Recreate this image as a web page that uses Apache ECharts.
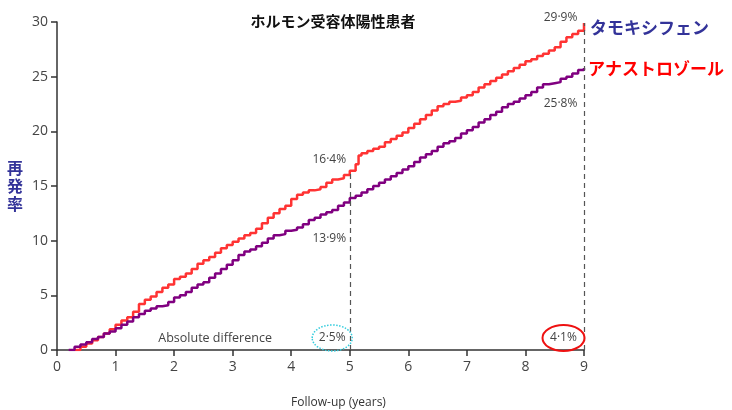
<!DOCTYPE html>
<html>
<head>
<meta charset="utf-8">
<script src="https://cdn.jsdelivr.net/npm/echarts@6/dist/echarts.min.js"></script>
<style>
  html, body { margin: 0; padding: 0; background: #fff; }
  #chart { width: 732px; height: 410px; }
</style>
</head>
<body>
<div id="chart"></div>
<script>
// follow-up time (years) and cumulative recurrence (%)
var tamTimes = [0.3, 0.4, 0.5, 0.6, 0.7, 0.8, 0.9, 1.0, 1.1, 1.2, 1.3, 1.4, 1.5, 1.6, 1.7, 1.8, 1.9,
    2.0, 2.1, 2.2, 2.3, 2.4, 2.5, 2.6, 2.7, 2.8, 2.9, 3.0, 3.1, 3.2, 3.3, 3.4, 3.5, 3.6, 3.7, 3.8, 3.9,
    4.0, 4.1, 4.2, 4.3, 4.4, 4.5, 4.6, 4.7, 4.8, 4.9, 5.0, 5.1, 5.15, 5.2, 5.3, 5.4, 5.5, 5.6, 5.7, 5.8, 5.9,
    6.0, 6.1, 6.2, 6.3, 6.4, 6.5, 6.6, 6.7, 6.8, 6.9, 7.0, 7.1, 7.2, 7.3, 7.4, 7.5, 7.6, 7.7, 7.8, 7.9,
    8.0, 8.1, 8.2, 8.3, 8.4, 8.5, 8.6, 8.7, 8.8, 8.9, 9.0];
var tamValues = [0.0, 0.3, 0.6, 0.9, 1.2, 1.5, 1.9, 2.3, 2.7, 3.0, 3.5, 4.2, 4.6, 4.9, 5.3, 5.7, 6.0,
    6.5, 6.7, 7.0, 7.4, 7.9, 8.2, 8.5, 8.9, 9.3, 9.6, 9.9, 10.2, 10.5, 10.7, 11.1, 11.6, 12.1, 12.5, 12.9, 13.2,
    13.8, 14.2, 14.4, 14.6, 14.7, 14.9, 15.3, 15.6, 15.7, 16.0, 16.4, 17.0, 17.8, 18.0, 18.2, 18.4, 18.6, 19.0, 19.3, 19.6, 19.9,
    20.3, 20.7, 21.1, 21.5, 21.9, 22.3, 22.5, 22.7, 22.8, 23.1, 23.3, 23.6, 24.0, 24.3, 24.6, 24.9, 25.2, 25.5, 25.8, 26.1,
    26.4, 26.6, 26.9, 27.1, 27.4, 27.7, 28.2, 28.6, 28.9, 29.2, 29.9];

var anaTimes = [0.2, 0.3, 0.4, 0.5, 0.6, 0.7, 0.8, 0.9, 1.0, 1.1, 1.2, 1.3, 1.4, 1.5, 1.6, 1.7, 1.8, 1.9,
    2.0, 2.1, 2.2, 2.3, 2.4, 2.5, 2.6, 2.7, 2.8, 2.9, 3.0, 3.1, 3.2, 3.3, 3.4, 3.5, 3.6, 3.7, 3.8, 3.9,
    4.0, 4.1, 4.2, 4.3, 4.4, 4.5, 4.6, 4.7, 4.8, 4.9, 5.0, 5.1, 5.2, 5.3, 5.4, 5.5, 5.6, 5.7, 5.8, 5.9,
    6.0, 6.1, 6.2, 6.3, 6.4, 6.5, 6.6, 6.7, 6.8, 6.9, 7.0, 7.1, 7.2, 7.3, 7.4, 7.5, 7.6, 7.7, 7.8, 7.9,
    8.0, 8.1, 8.2, 8.3, 8.4, 8.5, 8.6, 8.7, 8.8, 8.9, 9.0];
var anaValues = [0.0, 0.3, 0.5, 0.7, 1.0, 1.2, 1.5, 1.7, 2.0, 2.3, 2.6, 3.0, 3.3, 3.6, 3.8, 4.0, 4.1, 4.4,
    4.8, 5.0, 5.3, 5.7, 6.0, 6.2, 6.6, 7.0, 7.4, 7.8, 8.2, 8.7, 9.0, 9.2, 9.5, 9.8, 10.2, 10.5, 10.6, 10.9,
    11.0, 11.2, 11.5, 11.9, 12.1, 12.4, 12.6, 12.8, 13.2, 13.5, 13.9, 14.1, 14.4, 14.7, 15.0, 15.3, 15.6, 15.9, 16.2, 16.5,
    16.8, 17.2, 17.6, 17.9, 18.2, 18.6, 18.9, 19.1, 19.4, 19.8, 20.1, 20.4, 20.8, 21.1, 21.5, 21.8, 22.2, 22.5, 22.7, 23.0,
    23.3, 23.6, 24.0, 24.3, 24.4, 24.5, 24.8, 25.0, 25.3, 25.6, 25.8];

var xTicks = [0, 1, 2, 3, 4, 5, 6, 7, 8, 9];
var yTicks = [0, 5, 10, 15, 20, 25, 30];

// labelled time points
var checkYears = [5, 9];
var checkTam = ['16·4%', '29·9%'];
var checkAna = ['13·9%', '25·8%'];
var checkDiff = ['2·5%', '4·1%'];

var numFont = '"Open Sans", "Noto Sans", sans-serif';
var jpFont = '"Noto Sans CJK JP", sans-serif';

function zip(xs, ys) {
    return xs.map(function (x, i) { return [x, ys[i]]; });
}

var myChart = echarts.init(document.getElementById('chart'));

var option = {
    animation: false,
    grid: { left: 57, right: 148, top: 22, bottom: 60, outerBoundsMode: 'none', containLabel: false },
    xAxis: {
        type: 'value',
        min: xTicks[0],
        max: xTicks[xTicks.length - 1],
        interval: 1,
        name: 'Follow-up (years)',
        nameLocation: 'middle',
        nameGap: 47,
        nameTextStyle: { fontFamily: numFont, fontSize: 12, color: '#333', padding: [0, 0, 0, 36] },
        axisLine: { lineStyle: { color: '#333', width: 1.5 } },
        axisTick: { length: 6, lineStyle: { color: '#333', width: 1.5 } },
        axisLabel: { fontFamily: numFont, fontSize: 14, color: '#444', margin: 10 },
        splitLine: { show: false }
    },
    yAxis: {
        type: 'value',
        min: yTicks[0],
        max: yTicks[yTicks.length - 1],
        interval: 5,
        name: '再\n発\n率',
        nameLocation: 'middle',
        nameRotate: 0,
        nameGap: 34,
        nameTextStyle: { fontFamily: jpFont, fontSize: 16, fontWeight: 'bold', color: '#333399', lineHeight: 18 },
        axisLine: { show: true, lineStyle: { color: '#333', width: 1.5 } },
        axisTick: { show: true, length: 6, lineStyle: { color: '#333', width: 1.5 } },
        axisLabel: { fontFamily: numFont, fontSize: 14, color: '#444', margin: 9 },
        splitLine: { show: false }
    },
    series: [
        {
            name: 'タモキシフェン',
            type: 'line',
            step: 'end',
            showSymbol: false,
            data: zip(tamTimes, tamValues),
            lineStyle: { color: '#ff3333', width: 2.5 },
            z: 3,
            markLine: {
                silent: true,
                symbol: 'none',
                label: { show: false },
                lineStyle: { color: '#555', type: [5, 4], width: 1.2 },
                data: checkYears.map(function (yr, i) {
                    return [{ coord: [yr, 0] }, { coord: [yr, parseFloat(checkTam[i].replace('·', '.'))] }];
                })
            }
        },
        {
            name: 'アナストロゾール',
            type: 'line',
            step: 'end',
            showSymbol: false,
            data: zip(anaTimes, anaValues),
            lineStyle: { color: '#800080', width: 2.5 },
            z: 4
        }
    ]
};
myChart.setOption(option);

// annotations placed from data coordinates
function px(x, y) {
    return myChart.convertToPixel({ gridIndex: 0 }, [x, y]);
}

function label(text, p, extra) {
    var st = {
        text: text,
        x: p[0], y: p[1],
        fill: '#444',
        font: '12px ' + numFont,
        textAlign: 'center',
        textVerticalAlign: 'middle'
    };
    for (var k in extra) { st[k] = extra[k]; }
    return { type: 'text', z: 20, style: st };
}

var g = [];
g.push(label(checkTam[0], px(4.65, 17.4)));
g.push(label(checkAna[0], px(4.65, 10.2)));
g.push(label(checkTam[1], px(8.6, 30.4)));
g.push(label(checkAna[1], px(8.6, 22.5)));

g.push(label('Absolute difference', px(1.73, 1.1), { textAlign: 'left', font: '12.5px ' + numFont }));
var pd1 = px(4.7, 1.1), pd2 = px(8.65, 1.1);
g.push(label(checkDiff[0], pd1));
g.push(label(checkDiff[1], pd2));
g.push({
    type: 'ellipse', z: 19,
    shape: { cx: pd1[0], cy: pd1[1], rx: 20, ry: 13 },
    style: { fill: 'none', stroke: '#33ccdd', lineWidth: 1.5, lineDash: [1.5, 1.5] }
});
g.push({
    type: 'ellipse', z: 19,
    shape: { cx: pd2[0], cy: pd2[1], rx: 21, ry: 13 },
    style: { fill: 'none', stroke: '#ee1111', lineWidth: 2 }
});

// title and series names
g.push({
    type: 'text', z: 20,
    style: { text: 'ホルモン受容体陽性患者', x: 333, y: 21, fill: '#111', font: 'bold 15px ' + jpFont,
        textAlign: 'center', textVerticalAlign: 'middle' }
});
var pTam = px(9, 29.9), pAna = px(9, 25.8);
g.push({
    type: 'text', z: 20,
    style: { text: 'タモキシフェン', x: pTam[0] + 6, y: pTam[1] + 4, fill: '#333399', font: 'bold 17px ' + jpFont,
        textAlign: 'left', textVerticalAlign: 'middle' }
});
g.push({
    type: 'text', z: 20,
    style: { text: 'アナストロゾール', x: pAna[0] + 4, y: pAna[1] + 1, fill: '#ff0000', font: 'bold 17px ' + jpFont,
        textAlign: 'left', textVerticalAlign: 'middle' }
});

myChart.setOption({ graphic: g });
</script>
</body>
</html>
